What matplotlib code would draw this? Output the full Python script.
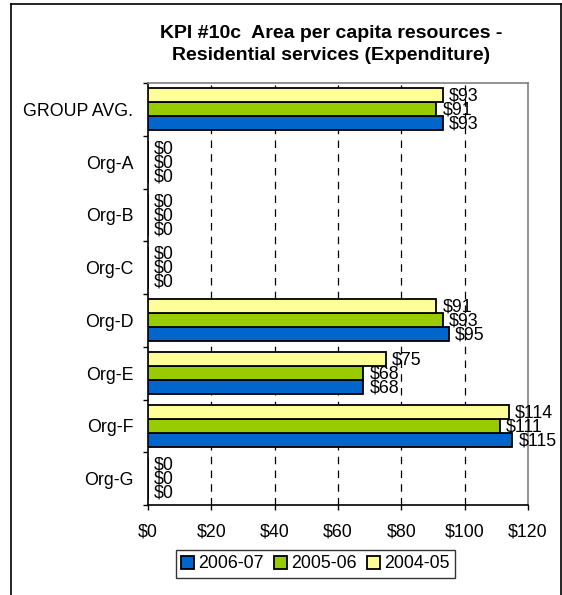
import matplotlib
matplotlib.use("Agg")
import matplotlib.pyplot as plt
from matplotlib.lines import Line2D
import numpy as np

plt.rcParams['font.family'] = ['Liberation Sans', 'DejaVu Sans']

categories = ['GROUP AVG.', 'Org-A', 'Org-B', 'Org-C', 'Org-D', 'Org-E', 'Org-F', 'Org-G']
series = ['2006-07', '2005-06', '2004-05']
vals_0607 = [93, 0, 0, 0, 95, 68, 115, 0]
vals_0506 = [91, 0, 0, 0, 93, 68, 111, 0]
vals_0405 = [93, 0, 0, 0, 91, 75, 114, 0]
colors = ['#0066CC', '#99CC00', '#FFFF99']
xticks = [0, 20, 40, 60, 80, 100, 120]

W, H = 562, 595
fig = plt.figure(figsize=(W / 100, H / 100), dpi=100)
ax = fig.add_axes([148 / W, 1 - 505 / H, 380 / W, 422 / H])

n = len(categories)
ypos = np.arange(n)[::-1]
h = 0.8 / 3
offsets = [-h, 0, h]
all_vals = [vals_0607, vals_0506, vals_0405]
fs = 12.8

for vals, off, col, lab in zip(all_vals, offsets, colors, series):
    ax.barh(ypos + off, vals, height=h, color=col, edgecolor='black',
            linewidth=1.3, label=lab, zorder=3)
    for y, v in zip(ypos + off, vals):
        ax.annotate('$%d' % v, (v, y), xytext=(4.5, -0.5), textcoords='offset points',
                    ha='left', va='center', fontsize=fs, zorder=4)

ax.set_xlim(0, 120)
ax.set_ylim(-0.5, n - 0.5)
ax.set_xticks(xticks)
ax.set_xticklabels(['$%d' % t for t in xticks], fontsize=fs)
ax.tick_params(axis='x', direction='out', length=3.6, width=1, pad=10)

ax.set_yticks(np.arange(-0.5, n, 1.0))
ax.set_yticklabels([])
ax.tick_params(axis='y', which='major', direction='out', length=3.6, width=1)
ax.set_yticks(ypos, minor=True)
ax.set_yticklabels(categories, minor=True, fontsize=fs)
ax.tick_params(axis='y', which='minor', length=0, pad=10.5)

for t in xticks[1:-1]:
    ax.axvline(t, color='black', linestyle=(0, (6, 5)), linewidth=0.9, zorder=1)

ax.spines['left'].set_color('black')
ax.spines['bottom'].set_color('black')
ax.spines['left'].set_linewidth(1.2)
ax.spines['bottom'].set_linewidth(1.2)
ax.spines['top'].set_color('#808080')
ax.spines['right'].set_color('#808080')
ax.spines['top'].set_linewidth(1.2)
ax.spines['right'].set_linewidth(1.2)

fig.text(331 / W, 1 - 44.5 / H, 'KPI #10c  Area per capita resources -\nResidential services (Expenditure)',
         ha='center', va='center', fontsize=14, fontweight='bold', linespacing=1.45)

handles, labels = ax.get_legend_handles_labels()
leg = fig.legend(handles, labels, loc='center', bbox_to_anchor=(315.5 / W, 1 - 564 / H),
                 ncol=3, fontsize=fs, frameon=True, fancybox=False, edgecolor='black',
                 handlelength=0.7, handleheight=0.7, handletextpad=0.25, columnspacing=0.6,
                 borderpad=0.3, borderaxespad=0)
leg.get_frame().set_linewidth(1.0)

# outer chart border
fig.add_artist(Line2D([11 / W, 11 / W], [0, 1 - 4 / H], color='black', lw=1.2, transform=fig.transFigure))
fig.add_artist(Line2D([11 / W, 561 / W], [1 - 4 / H, 1 - 4 / H], color='black', lw=1.2, transform=fig.transFigure))
fig.add_artist(Line2D([561 / W, 561 / W], [0, 1 - 4 / H], color='black', lw=1.2, transform=fig.transFigure))

fig.savefig('out.png', dpi=100)
